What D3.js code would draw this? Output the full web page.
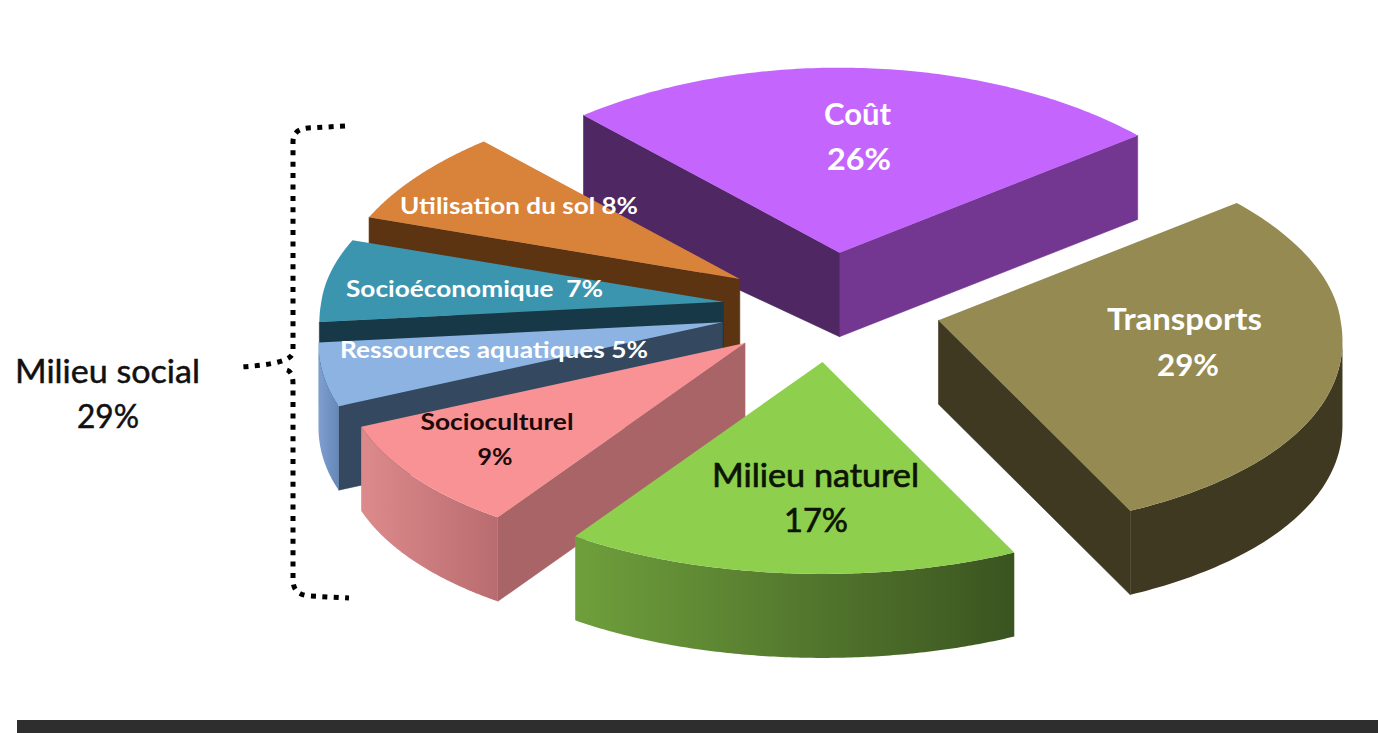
<!DOCTYPE html>
<html lang="fr">
<head>
<meta charset="utf-8">
<title>Répartition des critères</title>
<script src="https://cdn.jsdelivr.net/npm/d3@7/dist/d3.min.js"></script>
<style>
  html, body { margin: 0; padding: 0; background: #fff; overflow: hidden; }
  svg { display: block; }
  text { font-family: Lato, "Open Sans", sans-serif; }
</style>
</head>
<body>
<svg id="chart" width="1378" height="733"></svg>
<script>
// Criteria shares, in percent, clockwise from the back of the pie
const categories = ["Coût", "Transports", "Milieu naturel", "Socioculturel",
  "Ressources aquatiques", "Socioéconomique", "Utilisation du sol"];
const shares = [26, 29, 17, 9, 5, 7, 8];
const explode = [0.30, 0.268, 0.255, 0.26, 0.272, 0.272, 0.283];
const depthSkew = [18, 0, 0, 0, 0, 0, 0];

const groupLabel = "Milieu social";
const groupShare = 29;

// Top face, outer wall gradient (left to right) and radial walls for each slice
const topColors = ["#c466fe", "#948a52", "#8ecf4d", "#f89294", "#8db3e3", "#3b95ae", "#d8823a"];
const wallLeft  = ["#4f2763", "#3f3921", "#6f9f3c", "#dd8a8c", "#7f9fcf", "#1a3d4d", "#5c3412"];
const wallRight = ["#733792", "#3f3921", "#3a5420", "#b96c6f", "#6488b8", "#1a3d4d", "#5c3412"];
const wallRadialEnd = ["#733792", "#3f3921", "#3a5420", "#a86467", "#34495f", "#173947", "#5c3412"];
const wallRadialStart = ["#4f2763", "#3f3921", "#3a5420", "#a86467", "#34495f", "#173947", "#5c3412"];

// Label placement: [text, centre x, baseline y, size, weight, colour, width, outline]
const labelLines = [
  ["Coût", 857.5, 125, 30, 700, "#fff", 67, 0], ["26%", 859, 170, 31, 700, "#fff", 64, 0],
  ["Transports", 1184.5, 330, 31, 700, "#fff", 155, 0], ["29%", 1188, 376, 31, 700, "#fff", 62, 0],
  ["Milieu naturel", 815.5, 487, 33, 400, "#0c1404", 207, 0.7], ["17%", 816, 532, 33, 400, "#0c1404", 64, 0.7],
  ["Socioculturel", 497, 430, 23, 700, "#1a0a0a", 153, 0], ["9%", 495, 465, 23, 700, "#1a0a0a", 35, 0],
  ["Utilisation du sol 8%", 519, 214, 23, 700, "#fff", 238, 0],
  ["Socioéconomique  7%", 474.5, 297, 23, 700, "#fff", 257, 0],
  ["Ressources aquatiques 5%", 494, 358, 23, 700, "#fff", 308, 0],
  [groupLabel, 107.5, 383, 33, 400, "#111", 185, 0.5], [groupShare + "%", 108, 428, 33, 400, "#111", 62, 0.5]
];

const svg = d3.select("#chart");
const width = +svg.attr("width");
const height = +svg.attr("height");

// Tilted pie with mild perspective: the near half is wider and deeper than the far half
const centre = { x: 831, y: 308 };
const radiusX = 402, radiusBack = 185, radiusFront = 212, depth = 84;
const start = -42 * Math.PI / 180;

const project = (a, r = 1) => {
  const c = Math.cos(a);
  const widen = c >= 0 ? 1 - 0.065 * c : 1 - 0.1 * c;
  return [radiusX * widen * r * Math.sin(a), -(c >= 0 ? radiusBack : radiusFront) * r * c];
};

const arcs = d3.pie().sort(null).value(d => d)
  .startAngle(start).endAngle(start + 2 * Math.PI)(shares);

const defs = svg.append("defs");
const line = d3.line();
const pieGroup = svg.append("g");

// Slices are painted from the back of the pie towards the viewer
const paintOrder = [0, 1, 6, 5, 4, 3, 2];

paintOrder.forEach(i => {
  const arc = arcs[i];
  const off = project((arc.startAngle + arc.endAngle) / 2, explode[i]);
  const apex = [centre.x + off[0], centre.y + off[1]];
  const angleAt = d3.interpolateNumber(arc.startAngle, arc.endAngle);
  const rim = d3.range(0, 121).map(k => {
    const p = project(angleAt(k / 120));
    return [apex[0] + p[0], apex[1] + p[1]];
  });
  const down = p => [p[0], p[1] + depth + depthSkew[i] * Math.max(0, (apex[0] - p[0]) / 256)];
  const g = pieGroup.append("g").attr("class", "slice").datum(categories[i]);

  const wall = (a, b, colour) => g.append("path")
    .attr("d", line([a, b, down(b), down(a)]) + "Z")
    .attr("fill", colour).attr("stroke", colour).attr("stroke-width", 0.6);

  // A radial edge shows its wall when it runs right-to-left along the clockwise outline
  const first = rim[0], last = rim[rim.length - 1];
  if (last[0] > apex[0]) wall(last, apex, wallRadialEnd[i]);
  if (first[0] < apex[0]) wall(apex, first, wallRadialStart[i]);

  // Outer wall: the same test applied along the rim
  const front = rim.filter((p, k) =>
    (k > 0 && rim[k - 1][0] > p[0]) || (k < rim.length - 1 && rim[k + 1][0] < p[0]));
  if (front.length > 1) {
    const id = "wall-" + i;
    const xs = d3.extent(front, p => p[0]);
    const grad = defs.append("linearGradient").attr("id", id)
      .attr("gradientUnits", "userSpaceOnUse")
      .attr("x1", xs[0]).attr("x2", xs[1]).attr("y1", 0).attr("y2", 0);
    grad.append("stop").attr("offset", 0).attr("stop-color", wallLeft[i]);
    grad.append("stop").attr("offset", 1).attr("stop-color", wallRight[i]);
    g.append("path")
      .attr("d", line(front.concat(front.map(down).reverse())) + "Z")
      .attr("fill", `url(#${id})`);
  }

  g.append("path")
    .attr("d", line([apex].concat(rim)) + "Z")
    .attr("fill", topColors[i]);
});

// Text labels, stretched to their set widths
svg.append("g").selectAll("text").data(labelLines).join("text")
  .attr("x", d => d[1]).attr("y", d => d[2])
  .attr("text-anchor", "middle")
  .attr("font-size", d => d[3])
  .attr("font-weight", d => d[4])
  .attr("fill", d => d[5])
  .attr("stroke", d => d[7] ? d[5] : "none")
  .attr("stroke-width", d => d[7])
  .attr("textLength", d => d[6])
  .attr("lengthAdjust", "spacingAndGlyphs")
  .attr("xml:space", "preserve")
  .text(d => d[0]);

// Dotted brace that gathers the social criteria
const brace = d3.path();
brace.moveTo(345, 126);
brace.lineTo(308, 128);
brace.quadraticCurveTo(293, 129, 293, 142);
brace.lineTo(293, 352);
brace.quadraticCurveTo(292, 364, 240, 367);
brace.moveTo(287, 370);
brace.quadraticCurveTo(293, 372, 293, 384);
brace.lineTo(293, 580);
brace.quadraticCurveTo(293, 595, 310, 596);
brace.lineTo(349, 598);
svg.append("path").attr("d", brace.toString())
  .attr("fill", "none").attr("stroke", "#000")
  .attr("stroke-width", 5).attr("stroke-dasharray", "5 6.4");

// Dark strip along the bottom edge
svg.append("rect").attr("x", 17).attr("y", 720)
  .attr("width", width - 17).attr("height", height - 720)
  .attr("fill", "#2e2e2e");
</script>
</body>
</html>
